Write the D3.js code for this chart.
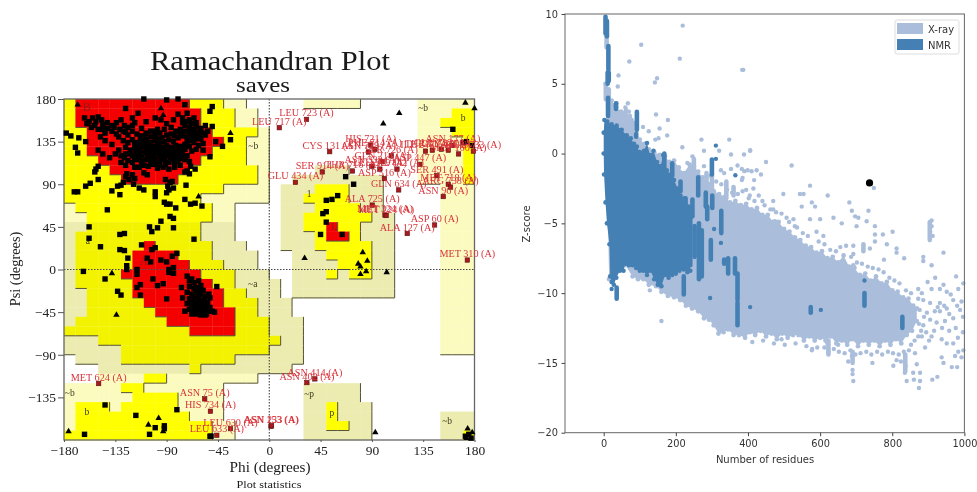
<!DOCTYPE html>
<html>
<head>
<meta charset="utf-8">
<script src="https://cdn.jsdelivr.net/npm/d3@7"></script>
<style>
  html, body { margin: 0; padding: 0; background: #fff; }
  svg { display: block; filter: blur(0.35px); }
</style>
</head>
<body>
<div id="chart"></div>
<script>
// ---------- Ramachandran data ----------
var phiTicks = [-180, -135, -90, -45, 0, 45, 90, 135, 180];
var psiTicks = [-135, -90, -45, 0, 45, 90, 135, 180];

// one row per 10 degrees of psi (180 down to -180), run lengths across phi (-180 to 180)
// . none, c pale, k khaki, y yellow, o dull yellow, r red
var regionRows = [
  "y1 r10 y3 c2 .2 .3 c5 .5 c5",
  "y1 r11 y3 c2 .1 .13 c3 y2",
  "y1 r11 y3 c2 .1 .13 c2 y3",
  "y2 r11 y4 c1 .13 c3 y2",
  "y2 r12 y2 c2 .13 c4 y1",
  "y2 r11 y3 c2 .13 c4 y1",
  "y3 r9 y4 c2 .13 c4 y1",
  "y4 r7 y6 c1 .4 k3 .6 c4 y1",
  "y5 r5 y7 c1 .2 k8 .3 c4 y1",
  "y14 c4 .1 k3 y3 k3 .5 c3",
  "y12 c6 .1 k2 y4 k3 .5 c3",
  "c1 y12 c2 .3 .1 k3 y4 k2 .5 c3",
  "c2 y11 c2 .3 .1 k2 y6 k2 .4 c3",
  "k2 o10 k3 .3 .1 k2 y2 r1 y2 k3 .4 c3",
  "k1 o11 k3 .3 .1 k3 y1 r2 y1 k3 .4 c3",
  "k1 o6 r1 o5 k3 .2 .1 k3 y5 k2 .4 c3",
  "k1 o5 r4 o3 k4 .1 .2 k3 y4 k2 .4 c3",
  "k1 o5 r5 o3 k3 .1 .2 k4 y3 k2 .4 c3",
  "k1 o4 r7 o3 k3 .2 k3 y1 k1 y2 k2 .4 c3",
  "k1 o5 r7 o2 k3 k1 .1 k9 .4 c3",
  "k2 o4 r8 o2 k2 k1 .1 k9 .4 c3",
  "k2 o5 r7 o3 k1 k2 .13 c3",
  "k2 o6 r7 o2 k1 k2 .13 c3",
  "k1 o8 r6 o3 k3 .12 c3",
  "o11 r4 o3 k3 .12 c3",
  "k3 o15 o1 k2 .12 c3",
  "k5 o13 k3 .12 c3",
  ".1 k4 o10 k3 k3 .15",
  ".3 k8 o1 k6 k2 .16",
  ".3 c4 y2 c8 .1 .18",
  "c5 y2 c7 .4 .3 k5 .10",
  "c6 y4 c4 .4 .3 k5 .10",
  "c1 y3 c1 y5 c4 .4 .3 k2 y1 k3 .9",
  "c1 y10 c3 .4 .3 k2 y1 k3 .6 k3",
  "c1 y12 c2 .3 .3 k2 y2 k2 .6 k3",
  "y13 c2 .3 .3 k6 .6 k2 y1"
];

var residueSquares = [
  // left edge of the beta area
  [-178,144],[-174,141],[-167,139],[-161,135],[-170,129],[-168,123],[-171,82],[-168,82],[-161,88],[-157,91],
  [-153,103],[-152,106],[-150,109],[-150,95],[-138,83],[-133,88],[-130,89],[-131,79],[-142,63],[-158,45],[-158,33],
  [-148,24],[-131,37],[-127,38],[-131,21],[-127,20],[-124,12],[-125,4],[-112,26],[-105,45],[-103,40],[-98,44],
  [-95,51],[-84,44],[-87,56],[-84,54],[-66,32],[-92,71],[-90,69],[-87,69],[-82,65],[-74,74],[-69,69],[-65,70],[-59,67],
  [-73,89],[-100,82],[-100,77],[-90,81],[-88,84],[-84,86],[-110,84],[-114,86],[-119,90],[-126,98],[-123,95],[-128,92],
  [-107,100],[-110,102],[-98,107],[-97,110],[-69,109],[-65,106],[-52,119],[-41,130],[-34,137],[-50,151],[-52,167],
  [-50,172],[-110,180],[-126,170],[-90,179],[-80,180],[-74,174],[-47,135],[-56,142],[-91,95],[-87,92],[-85,93],
  [-89,88],[-120,100],[-118,96],[-125,101],[-72,104],[-70,101],[-74,103],[-83,111],[-78,110],
  // beta cluster
  [-162,160],[-158,156],[-155,160],[-150,161],[-147,158],[-153,152],[-150,148],[-146,153],[-142,149],[-138,146],
  [-134,155],[-130,158],[-127,152],[-131,148],[-136,150],[-120,160],[-115,165],[-118,155],[-112,149],[-108,156],
  [-100,160],[-95,158],[-98,148],[-90,154],[-84,158],[-80,164],[-76,160],[-72,165],[-70,158],[-66,160],[-64,155],
  [-74,152],[-70,150],[-66,148],[-62,145],[-78,148],[-82,146],[-86,143],[-90,142],[-94,139],[-60,149],[-56,152],
  [-120,146],[-116,143],[-112,141],[-108,144],[-104,146],[-100,141],[-96,144],[-124,142],[-128,136],[-132,140],
  [-138,132],[-144,136],[-148,140],[-135,122],[-130,120],[-126,129],[-124,134],[-120,137],[-116,134],[-112,136],
  [-108,137],[-104,134],[-100,136],[-96,133],[-92,135],[-88,137],[-84,135],[-80,139],[-76,141],[-72,140],[-68,141],
  [-64,138],[-60,138],[-58,133],[-122,126],[-118,129],[-114,127],[-110,130],[-106,128],[-102,130],[-98,127],[-94,129],
  [-90,126],[-86,129],[-82,127],[-78,130],[-74,132],[-70,130],[-66,134],[-62,131],[-120,120],[-116,122],[-112,120],
  [-108,123],[-104,121],[-100,123],[-96,120],[-92,122],[-88,120],[-84,122],[-80,119],[-76,122],[-72,120],[-124,115],
  [-120,113],[-116,116],[-112,112],[-108,116],[-104,113],[-100,116],[-96,113],[-92,116],[-88,113],[-84,116],[-80,114],
  [-114,108],[-110,110],[-106,109],[-102,111],[-118,108],[-126,110],[-140,118],[-146,122],[-150,126],[-132,126],
  [-160,154],[-144,144],[-126,145],[-68,125],[-64,127],[-74,116],[-70,114],[-93,108],[-88,106],[-58,126],
  // second pass over the densest part of the beta area
  [-118,133],[-114,131],[-110,134],[-106,132],[-102,126],[-98,131],[-94,125],[-90,131],[-86,124],[-82,131],[-78,125],[-74,127],
  [-117,125],[-113,123],[-109,126],[-105,124],[-101,119],[-97,123],[-93,119],[-89,123],[-85,118],[-81,124],[-77,118],
  [-115,118],[-111,116],[-107,119],[-103,117],[-99,112],[-95,117],[-91,111],[-87,117],[-83,108],[-79,117],[-118,118],[-122,122],
  [-70,145],[-66,143],[-62,141],[-74,146],[-78,144],[-68,154],[-72,156],[-64,151],[-76,155],[-146,148],[-142,155],[-138,152],
  [-128,146],[-124,150],[-120,152],[-156,150],[-152,156],[-134,143],[-104,140],[-100,146],[-92,148],[-86,150],[-58,144],[-54,146],
  [-113,138],[-109,140],[-97,138],[-83,141],[-72,135],[-68,136],[-126,122],[-130,113],[-127,118],
  // alpha cluster
  [-107,12],[-103,21],[-100,23],[-95,10],[-90,8],[-85,14],[-81,17],[-88,0],[-84,2],[-116,0],[-104,8],[-125,0],[-163,-2],
  [-144,-10],[-133,-23],[-130,-27],[-113,-16],[-116,-19],[-113,-27],[-102,-10],[-98,-17],[-93,-15],[-90,-31],[-84,-4],
  [-77,-19],[-46,-18],[-116,-5],[-88,-3],[-72,-7],[-68,-10],[-66,-14],[-62,-12],[-70,-18],[-64,-19],[-60,-17],[-58,-22],
  [-72,-24],[-68,-26],[-64,-24],[-60,-26],[-56,-28],[-52,-30],[-70,-31],[-66,-32],[-62,-30],[-58,-33],[-54,-35],[-72,-36],
  [-68,-37],[-64,-36],[-60,-38],[-56,-38],[-52,-40],[-70,-42],[-66,-43],[-62,-42],[-58,-43],[-54,-44],[-50,-44],[-64,-47],
  [-60,-48],[-56,-48],[-74,-44],[-48,-45],[-53,-26],[-76,-30],[-68,-47],[-65,-28],[-61,-34],[-57,-31],[-63,-40],[-59,-45],
  [-55,-41],[-67,-40],[-69,-34],[-65,-45],[-61,-22],[-66,-20],[-70,-12],[-55,-47],
  // lower left and right half
  [-144,-143],[-117,-154],[-100,-167],[-105,-174],[-92,-165],[-92,-168],[-81,-148],[-162,-174],[-52,-176],[-51,-176],
  [161,148],[173,135],[178,131],[170,134],[50,73],[55,74],[60,78],[47,59],[50,61],[50,50],[45,37],[64,37],[67,98],[74,90],
  [175,-174],[172,-176],[177,-178]
];

var residueTriangles = [
  [-168,174],[-93,163],[-95,170],[-34,144],[-62,77],[-176,-171],[-106,-164],[-97,-157],[-93,-171],[-134,-48],[-138,-4],
  [172,176],[180,170],[114,165],[100,154],[31,12],[82,18],[78,6],[86,9],[80,3],[85,-2],[80,-5],[103,-3],[93,-172],
  [174,-168],[178,-172],[173,-178]
];

var outlierNames = [
  "LEU 723 (A)","LEU 717 (A)","CYS 131 (A)","HIS 721 (A)","PHE 714 (A)","ASN 729 (A)","SER 914 (A)","GLU 434 (A)","THR 716 (A)",
  "ASP 516 (A)","GLN 634 (A)","ALA 725 (A)","MET 324 (A)","MET 224 (A)","ASP 60 (A)","ALA 127 (A)","MET 310 (A)","ASN 96 (A)",
  "MET 718 (A)","ARG 738 (A)","SER 491 (A)","ILE 247 (A)","THR 715 (A)","GLU 722 (A)","GLY 617 (A)","ASN 177 (A)","MET 160 (A)",
  "GLU 733 (A)","ASN 332 (A)","GLN 214 (A)","SER 726 (A)","VAL 442 (A)","LEU 319 (A)","ASP 447 (A)",
  "MET 624 (A)","ASN 75 (A)","HIS 734 (A)","LEU 630 (A)","LEU 633 (A)","ASN 153 (A)","ASN 233 (A)","ASN 414 (A)","ASN 402 (A)"
];
var outlierPhi = [32.7,8.8,53,89,92.7,87,46.5,23,73,101,113.5,90.3,101.5,102.5,145,121,173.7,152.6,157,159,147,137,143,151,157,161,166,179,90,99,107,112,97,132,
  -149.6,-56.6,-51.6,-34,-46,1.5,2,40,33];
var outlierPsi = [158.5,149.7,124.4,131.4,126.8,124,103,92,104,96,84,68,57.5,57,47,38,10,77,90,87,99,125,126,127,126,131,122,125,109,114,120,106,106,111,
  -120.4,-136.6,-149.6,-168,-175,-165.5,-165,-115.5,-119.4];

var regionLetters = ["B","~b","A","a","~a","~b","b","L","1","~b","b","~p","p","~b"];
var letterPhi = [-160,-14,-110,-159,-14.5,-175,-160,57,35,135,170,35,55,156];
var letterPsi = [170,130,8,30,-15,-130,-150,45,80,170,160,-131,-151,-160];

// ---------- Z-score data ----------
var residueTicks = [0, 200, 400, 600, 800, 1000];
var zTicks = [10, 5, 0, -5, -10, -15, -20];
var legendNames = ["X-ray", "NMR"];
var queryEntry = [737, -2.1];

var xrayTop = [[5,5],[12,4.2],[22,3.8],[35,3.3],[48,3],[62,3.1],[72,2.6],[82,2.2],[90,1.5],[100,1],[112,.7],[125,.3],[140,.1],[155,-.1],
  [170,-.2],[182,-.6],[195,-.5],[208,-1],[222,-1.4],[238,-.8],[250,-.9],[262,-1.3],[275,-1.7],[290,-2.2],[305,-2.7],[320,-2.9],[335,-3.1],
  [350,-3.5],[365,-3.4],[380,-3.7],[395,-3.6],[410,-4],[425,-3.9],[440,-4.4],[455,-4.4],[470,-4.9],[485,-4.9],[500,-5.4],[515,-5.6],
  [530,-6],[545,-6.2],[560,-6.6],[575,-6.7],[590,-7.1],[605,-7],[620,-7.5],[635,-7.4],[650,-7.8],[665,-7.3],[680,-8.1],[695,-8.2],
  [710,-8.7],[725,-8.6],[740,-9.1],[755,-8.8],[770,-9.3],[785,-9.2],[800,-9.8],[815,-9.9],[830,-10.3],[845,-10.4],[858,-10.9],[868,-11.1]];
var xrayBottom = [[15,-9],[60,-8],[80,-8.8],[95,-9],[110,-9],[125,-9.4],[145,-9.5],[160,-9.9],[178,-10.2],[195,-10.3],[212,-10.5],[228,-10.9],
  [245,-11.1],[262,-11.3],[278,-11.8],[292,-11.9],[305,-12.3],[318,-12.9],[332,-12.8],[345,-12.6],[360,-13],[375,-13],[392,-13.2],[405,-12.8],
  [420,-13],[435,-12.7],[450,-13.1],[465,-12.9],[480,-13.3],[495,-12.9],[510,-13.2],[525,-13],[540,-13],[555,-13.4],[570,-13.1],[585,-13.4],
  [600,-13.2],[615,-13.4],[630,-13.1],[645,-13.6],[660,-13.4],[675,-13.7],[690,-13.3],[705,-13.8],[720,-13.4],[735,-13.7],[750,-13.4],[765,-13.8],
  [780,-13.4],[795,-13.7],[810,-13.3],[825,-13.6],[840,-13],[855,-12.7],[868,-12]];
var xrayScatter = [[692,-6.6],[692,-7.2],[738,-6.8],[752,-6.3],[785,-6.5],[812,-6.8],[812,-7.1],[833,-7.5],[777,-7.6],[886,-7.4],[886,-7.7],[909,-8],
  [942,-7.1],[919,-8.9],[977,-8.8],[983,-9.7],[997,-9.3],[951,-9.9],[932,-9.7],[909,-9.7],[882,-10],[886,-10.5],[905,-10.7],[932,-10.7],[932,-11.3],
  [969,-10.5],[992,-10.6],[988,-11.2],[969,-11.8],[951,-11.1],[946,-12],[923,-12.1],[905,-11.9],[886,-12.3],[882,-13.1],[909,-13.1],[937,-13.3],
  [951,-13.6],[969,-13.6],[983,-14.2],[997,-14.1],[974,-14.5],[937,-14.6],[942,-15],[965,-15.3],[980,-15.3],[992,-14.6],[891,-13.9],[863,-14.3],
  [837,-15.2],[835,-15.7],[840,-16.3],[858,-15.7],[868,-15.1],[877,-15.7],[877,-16.3],[874,-16.8],[860,-16.2],[911,-16.2],[925,-16],[803,-15.2],
  [812,-14.8],[824,-14.9],[745,-15],[678,-14.9],[690,-15.5],[690,-15.8],[692,-16.3],[688,-14.5],[577,-14.1],[623,-14.2],[620,-13.6],[650,-13.7],[493,-13.3],
  [384,6],[406,.24],[389,-.07],[450,-.6],[521,-.86],[383,-1.1],[410,-1.27],[424,-1.2],[436,-1.5],[383,-1.9],[417,-1.9],[415,-2.5],[385,-2.7],[572,-2.3],
  [621,-3],[498,-2.9],[544,-2.9],[554,-2.9],[549,-3.8],[577,-3.5],[586,-3.8],[681,-3.5],[688,-4.1],[697,-4.5],[734,-4.1],[729,-4.85],[749,-2.46],
  [637,-4.6],[660,-5],[706,-4.6],[701,-5.2],[752,-5.2],[752,-5.8],[774,-5.8],[801,-5.6],[909,-4.8],[909,-5.2],[905,-5.6],[912,-5.9],[600,-4.7],[572,-4.7],
  [590,-5.6],[609,-5.9],[470,-3.4],[470,-4],[493,-4.3],[526,-4.7],[507,-4.6],[452,-4.5],[475,-4.85],[430,-3],[440,-3.4],[395,-2.6],[405,-3],[530,-5.2],
  [219,9.17],[104,7.8],[71,6.6],[211,6.8],[387,6],[41,5.6],[39,4.8],[148,5.4],[142,5.1],[67,3.6],[36,3.6],[145,2.8],[178,2.4],[109,1.9],[125,1.6],
  [155,1.8],[176,1.3],[143,1],[152,1.1],[271,1],[348,1],[218,.45],[278,.2],[320,.2],[353,-.07],[406,.2],[246,-.2],[250,-.67],[232,-.67],[278,-.9],
  [325,-1.2],[334,-1.4],[371,-.86],[390,-1.26],[399,-1.2],[385,-1.74],[353,-1.1],[160,-12],[128,-9.8],[128,-9.3],[73,2.7],[78,2.4],[86,2],[70,3],[60,3.3],
  // ragged fringe above the solid part
  [296,-1.6],[312,-2],[326,-2.2],[342,-2.6],[356,-2.8],[372,-2.9],[402,-3.2],[418,-3.4],[446,-3.7],[462,-4],[478,-4.2],[514,-4.9],[536,-5.3],[552,-5.7],
  [566,-5.9],[596,-6.3],[612,-6.5],[628,-6.9],[644,-7],[656,-6.7],[672,-6.6],[686,-7.4],[702,-7.8],[716,-7.9],[732,-8.1],[746,-8.2],[762,-8.3],
  [776,-8.5],[792,-8.9],[806,-9.1],[820,-9.3],[838,-9.8],[852,-10],[872,-10.4],[876,-11.2],
  // ragged fringe below the solid part, and the broken tail
  [412,-13.5],[442,-13.4],[472,-13.6],[502,-13.7],[532,-13.6],[562,-13.8],[578,-14],[592,-13.9],[612,-13.9],[638,-14],[652,-14.2],[668,-14.3],[684,-14.1],
  [698,-14.4],[712,-14.3],[728,-14.2],[742,-14.4],[758,-14.2],[772,-14.4],[788,-14.2],[802,-14.3],[818,-14.4],[832,-14.2],[846,-14.1],[852,-13.7],
  [862,-13.4],[872,-13.1],[880,-12.7],[874,-12.2],[888,-11.7],[896,-11.4],[894,-12.8],[902,-13.4],[916,-12.7],[918,-11.3],[926,-11],[938,-12.5],
  [944,-10.9],[958,-12.7],[958,-11.5],[976,-12.5],[982,-13.2],[996,-12.8],[996,-11.7],[980,-10.9],[962,-10.1],[942,-9.4],[898,-9.2],[872,-9.7]];
var xrayStreaks = [[8,8.8,7.6],[6,5,3.9],[14,4.6,3.6],[720,-6.5,-7],[300,-1.5,-3],[340,-2,-3.2],[360,-2.4,-3],[250,-.4,-1.4],[285,-1.4,-2.4],
  [692,-8,-9],[904,-4.9,-6.2],[623,-13.4,-14.4],[690,-14.2,-15],[836,-14.4,-15.6]];

var nmrTop = [[2,2.4],[10,2.3],[22,2.1],[36,2],[50,1.7],[64,1.3],[75,1.1],[84,.7],[92,.5],[100,.1],[112,.2],[120,.75],[128,-.1],[138,.2],[148,-.6],
  [158,-.9],[165,-.1],[175,-1.2],[185,-1.5],[195,-1.9],[205,-2.5],[213,-3],[224,-3.2],[236,-3.8]];
var nmrBottom = [[0,1.5],[0,0],[1,-1.5],[5,-3.5],[9,-5],[16,-6.5],[18,-8.8],[22,-9.2],[28,-9.4],[35,-8.9],[45,-8.4],[55,-8.4],[60,-7.9],[70,-8],[80,-8],
  [90,-8.2],[100,-8.4],[110,-8.4],[120,-8.7],[130,-8.4],[140,-9],[150,-9.4],[160,-9.5],[170,-8.7],[180,-8.9],[190,-8.7],[200,-8.6],[210,-8.4],[222,-8.3],[232,-8.5],[240,-8.4]];
var nmrStreaks = [[5,9.8,8.6],[9,9.5,8.4],[13,7.7,6],[11,5.8,5],[14,5.8,5.2],[12,4,2.7],[34,3.6,3.2],[92,3,1.7],[90,1.4,1.2],[300,-.43,-1.5],[213,-2,-2.7],
  [262,-1.7,-3],[283,-2.8,-3.8],[301,-3,-3.9],[326,-4.1,-5.7],[246,-3.3,-4.5],[227,-3.2,-3.8],[287,-3.8,-4.7],[252,-5.2,-7.4],[190,-.7,-1.6],[168,0,-1.1],
  [297,-6.2,-7.6],[334,-7.6,-7.9],[345,-7.5,-8.6],[364,-7.5,-8.6],[371,-8.6,-10.5],[371,-10.7,-12.3],[36,-9.6,-10.4],[222,-8.8,-10.1],[264,-5,-9],[272,-5.5,-8.8],
  [574,-11,-11.4],[723,-10,-10.9],[828,-11.7,-12.5],[240,-4,-8]];
var nmrDots = [[311,.57],[311,-.38],[365,-1.55],[306,-5.4],[325,-5.4],[325,-6.4],[295,-10.35],[22,-9.7],[406,-11],[602,-11.2],[723,-9.1],[34,3.4]];

// ---------- page ----------
var svg = d3.select("#chart").append("svg")
  .attr("width", 977).attr("height", 492);

var serif = "'Liberation Serif', serif";
var sans = "'DejaVu Sans', sans-serif";
var regionColor = { c: "#fbfbc0", k: "#ecebb0", y: "#ffff00", o: "#f3f300", r: "#f40000" };
var regionRank = { ".": 0, c: 1, k: 1, y: 2, o: 2, r: 3 };

// Ramachandran panel
var phiScale = d3.scaleLinear().domain([-180, 180]).range([64, 474.5]);
var psiScale = d3.scaleLinear().domain([180, -180]).range([99, 440]);

var cells = [];
regionRows.forEach(function(row, i) {
  var col = 0;
  row.split(" ").forEach(function(run) {
    d3.range(+run.slice(1)).forEach(function() {
      cells.push({ phi: -180 + col * 10, psi: 180 - i * 10, type: run[0], row: i, col: col });
      col++;
    });
  });
});
var cellAt = {};
cells.forEach(function(d) { cellAt[d.row + "_" + d.col] = d; });

svg.append("g").selectAll("rect")
  .data(cells.filter(function(d) { return d.type != "."; }))
  .enter().append("rect")
  .attr("x", function(d) { return phiScale(d.phi); })
  .attr("y", function(d) { return psiScale(d.psi); })
  .attr("width", phiScale(-170) - phiScale(-180) + 0.3)
  .attr("height", psiScale(170) - psiScale(180) + 0.3)
  .attr("fill", function(d) { return regionColor[d.type]; });

// dark shadow lines along the right and lower side of each region
var edgePath = d3.path();
cells.forEach(function(d) {
  var right = cellAt[d.row + "_" + (d.col + 1)];
  var below = cellAt[(d.row + 1) + "_" + d.col];
  if (right && regionRank[d.type] > regionRank[right.type]) {
    edgePath.moveTo(phiScale(d.phi + 10), psiScale(d.psi));
    edgePath.lineTo(phiScale(d.phi + 10), psiScale(d.psi - 10));
  }
  if (below && regionRank[d.type] > regionRank[below.type]) {
    edgePath.moveTo(phiScale(d.phi), psiScale(d.psi - 10));
    edgePath.lineTo(phiScale(d.phi + 10), psiScale(d.psi - 10));
  }
});
svg.append("path").attr("d", edgePath.toString())
  .attr("fill", "none").attr("stroke", "#55533a").attr("stroke-width", 1);

svg.append("line")
  .attr("x1", phiScale(0)).attr("x2", phiScale(0)).attr("y1", psiScale(180)).attr("y2", psiScale(-180))
  .attr("stroke", "#333").attr("stroke-dasharray", "1.5,1.5").attr("stroke-width", 1);
svg.append("line")
  .attr("x1", phiScale(-180)).attr("x2", phiScale(180)).attr("y1", psiScale(0)).attr("y2", psiScale(0))
  .attr("stroke", "#444").attr("stroke-dasharray", "1.5,1.5").attr("stroke-width", 1);

svg.append("rect")
  .attr("x", phiScale(-180)).attr("y", psiScale(180))
  .attr("width", phiScale(180) - phiScale(-180)).attr("height", psiScale(-180) - psiScale(180))
  .attr("fill", "none").attr("stroke", "#666").attr("stroke-width", 1.3);

var phiAxis = svg.append("g").attr("transform", "translate(0," + psiScale(-180) + ")")
  .call(d3.axisBottom(phiScale).tickValues(phiTicks).tickSize(2).tickPadding(3));
var psiAxis = svg.append("g").attr("transform", "translate(" + phiScale(-180) + ",0)")
  .call(d3.axisLeft(psiScale).tickValues(psiTicks).tickSize(6).tickPadding(2));
[phiAxis, psiAxis].forEach(function(axis) {
  axis.select(".domain").remove();
  axis.selectAll("line").attr("stroke", "#555");
  axis.selectAll("text").attr("font-family", serif).attr("font-size", 13.5).attr("fill", "#222");
});

svg.append("g").selectAll("text")
  .data(regionLetters)
  .enter().append("text")
  .attr("x", function(d, i) { return phiScale(letterPhi[i]); })
  .attr("y", function(d, i) { return psiScale(letterPsi[i]) + 3; })
  .attr("text-anchor", "middle")
  .attr("font-family", serif)
  .attr("font-size", function(d) { return d == "B" || d == "A" ? 12 : 9.5; })
  .attr("fill", function(d) { return d == "B" || d == "A" || d == "L" ? "#8c1c1c" : "#3b3b20"; })
  .text(function(d) { return d; });

svg.append("g").selectAll("rect")
  .data(residueSquares)
  .enter().append("rect")
  .attr("x", function(d) { return phiScale(d[0]) - 2.7; })
  .attr("y", function(d) { return psiScale(d[1]) - 2.7; })
  .attr("width", 5.4).attr("height", 5.4)
  .attr("fill", "#000");

svg.append("g").selectAll("path")
  .data(residueTriangles)
  .enter().append("path")
  .attr("transform", function(d) { return "translate(" + phiScale(d[0]) + "," + psiScale(d[1]) + ")"; })
  .attr("d", d3.symbol().type(d3.symbolTriangle).size(18))
  .attr("fill", "#000");

svg.append("g").selectAll("rect")
  .data(outlierNames)
  .enter().append("rect")
  .attr("x", function(d, i) { return phiScale(outlierPhi[i]) - 2.2; })
  .attr("y", function(d, i) { return psiScale(outlierPsi[i]) - 2.2; })
  .attr("width", 4.4).attr("height", 4.4)
  .attr("fill", "#a8181c").attr("stroke", "#5e1012").attr("stroke-width", 0.6);

svg.append("g").selectAll("text")
  .data(outlierNames)
  .enter().append("text")
  .attr("x", function(d, i) { return phiScale(outlierPhi[i]); })
  .attr("y", function(d, i) { return psiScale(outlierPsi[i]) - 3; })
  .attr("text-anchor", "middle")
  .attr("font-family", serif).attr("font-size", 10.2)
  .attr("fill", "#d9343c")
  .text(function(d) { return d; });

// the scanned titles are stretched sideways, so they get a fixed length
function stretchedText(x, y, size, length, label) {
  svg.append("text").attr("x", x).attr("y", y).attr("text-anchor", "middle")
    .attr("font-family", serif).attr("font-size", size).attr("fill", "#1a1a1a")
    .attr("textLength", length).attr("lengthAdjust", "spacingAndGlyphs")
    .text(label);
}
stretchedText(270, 70, 27, 240, "Ramachandran Plot");
stretchedText(263, 92, 20.5, 54, "saves");
stretchedText(270, 472, 14, 81, "Phi (degrees)");
stretchedText(269, 488, 10, 65, "Plot statistics");
svg.append("text").attr("transform", "translate(20,269) rotate(-90)").attr("text-anchor", "middle")
  .attr("font-family", serif).attr("font-size", 14.4).attr("fill", "#222").text("Psi (degrees)");

// Z-score panel
var nScale = d3.scaleLinear().domain([0, 1000]).range([603.7, 964.4]);
var zScale = d3.scaleLinear().domain([10, -20]).range([14, 432.7]);
var xrayColor = "#aabedb";
var nmrColor = "#4580b4";

var outline = d3.line()
  .x(function(d) { return nScale(d[0]); })
  .y(function(d) { return zScale(d[1]); });

function drawPoints(points, color, r) {
  svg.append("g").selectAll("circle")
    .data(points)
    .enter().append("circle")
    .attr("cx", function(d) { return nScale(d[0]); })
    .attr("cy", function(d) { return zScale(d[1]); })
    .attr("r", r)
    .attr("fill", color);
}

function drawStreaks(streaks, color) {
  svg.append("g").selectAll("line")
    .data(streaks)
    .enter().append("line")
    .attr("x1", function(d) { return nScale(d[0]); })
    .attr("x2", function(d) { return nScale(d[0]); })
    .attr("y1", function(d) { return zScale(d[1]); })
    .attr("y2", function(d) { return zScale(d[2]); })
    .attr("stroke", color).attr("stroke-width", 4.6).attr("stroke-linecap", "round");
}

svg.append("path")
  .attr("d", outline(xrayTop.concat(xrayBottom.slice().reverse())) + "Z")
  .attr("fill", xrayColor);
drawPoints(xrayTop.concat(xrayBottom), xrayColor, 2.4);
drawPoints(xrayScatter, xrayColor, 2.2);
drawStreaks(xrayStreaks, xrayColor);

svg.append("path")
  .attr("d", outline(nmrTop.concat(nmrBottom.slice().reverse())) + "Z")
  .attr("fill", nmrColor);
drawPoints(nmrTop.concat(nmrBottom), nmrColor, 2.3);
drawStreaks(nmrStreaks, nmrColor);
drawPoints(nmrDots, nmrColor, 2.2);

drawPoints([queryEntry], "#000", 3.6);

svg.append("rect")
  .attr("x", 565).attr("y", zScale(10))
  .attr("width", nScale(1000) - 565).attr("height", zScale(-20) - zScale(10))
  .attr("fill", "none").attr("stroke", "#666").attr("stroke-width", 1);

var nAxis = svg.append("g").attr("transform", "translate(0," + zScale(-20) + ")")
  .call(d3.axisBottom(nScale).tickValues(residueTicks).tickFormat(d3.format("d")).tickSize(3.5).tickPadding(3.5));
var zAxis = svg.append("g").attr("transform", "translate(565,0)")
  .call(d3.axisLeft(zScale).tickValues(zTicks).tickSize(3.5).tickPadding(3.5));
[nAxis, zAxis].forEach(function(axis) {
  axis.select(".domain").remove();
  axis.selectAll("line").attr("stroke", "#444");
  axis.selectAll("text").attr("font-family", sans).attr("font-size", 9.8).attr("fill", "#333");
});

svg.append("text").attr("x", 765).attr("y", 463).attr("text-anchor", "middle")
  .attr("font-family", sans).attr("font-size", 10).attr("fill", "#333").text("Number of residues");
svg.append("text").attr("transform", "translate(530,224) rotate(-90)").attr("text-anchor", "middle")
  .attr("font-family", sans).attr("font-size", 10).attr("fill", "#333").text("Z-score");

svg.append("rect").attr("x", 895).attr("y", 20).attr("width", 64).attr("height", 34)
  .attr("fill", "#fff").attr("stroke", "#ddd").attr("rx", 2);
var legend = svg.append("g").selectAll("g")
  .data(legendNames)
  .enter().append("g")
  .attr("transform", function(d, i) { return "translate(897," + (23 + i * 16) + ")"; });
legend.append("rect").attr("width", 26).attr("height", 11)
  .attr("fill", function(d, i) { return i == 0 ? xrayColor : nmrColor; });
legend.append("text").attr("x", 31).attr("y", 9.5)
  .attr("font-family", sans).attr("font-size", 10).attr("fill", "#333")
  .text(function(d) { return d; });
</script>
</body>
</html>
